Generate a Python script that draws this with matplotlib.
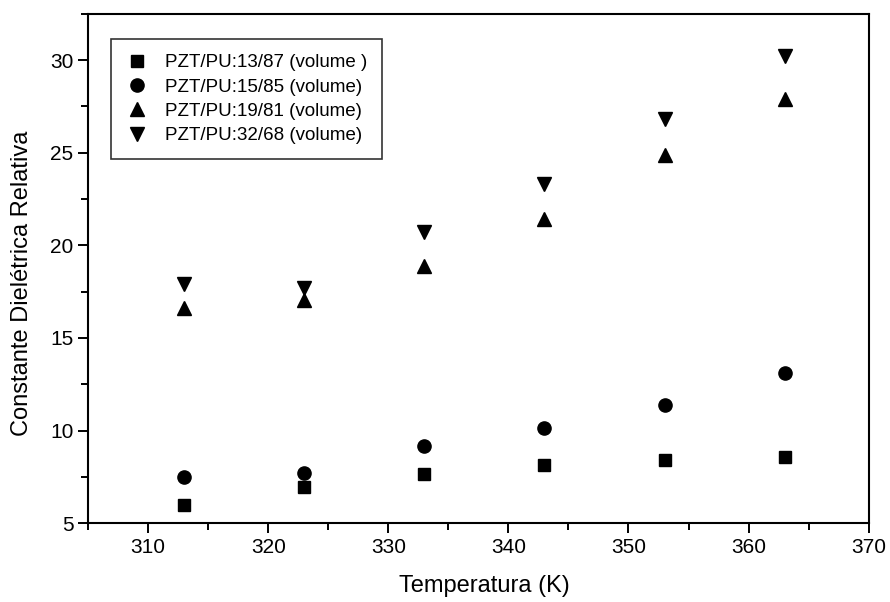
import numpy as np
import matplotlib.pyplot as plt
from matplotlib.ticker import MultipleLocator

plt.rcParams['font.family'] = ['Liberation Sans', 'DejaVu Sans']

# temperatures (K)
temp = [313, 323, 333, 343, 353, 363]

# relative dielectric constant per composition
pzt_13 = [5.97, 6.95, 7.65, 8.13, 8.4, 8.57]
pzt_15 = [7.49, 7.7, 9.16, 10.14, 11.38, 13.1]
pzt_19 = [16.6, 17.05, 18.9, 21.4, 24.9, 27.9]
pzt_32 = [17.9, 17.7, 20.7, 23.3, 26.8, 30.2]

labels = ["PZT/PU:13/87 (volume )", "PZT/PU:15/85 (volume)",
          "PZT/PU:19/81 (volume)", "PZT/PU:32/68 (volume)"]


def main():
    fig = plt.figure(figsize=(8.9, 6.02), dpi=100)
    ax = fig.add_axes([0.099, 0.131, 0.877, 0.846])

    ax.plot(temp, pzt_13, 's', color='black', ms=8.5, label=labels[0])
    ax.plot(temp, pzt_15, 'o', color='black', ms=9.5, label=labels[1])
    ax.plot(temp, pzt_19, '^', color='black', ms=10, label=labels[2])
    ax.plot(temp, pzt_32, 'v', color='black', ms=10, label=labels[3])

    ax.set_xlim(305, 370)
    ax.set_ylim(5, 32.5)
    ax.xaxis.set_major_locator(MultipleLocator(10))
    ax.xaxis.set_minor_locator(MultipleLocator(5))
    ax.yaxis.set_major_locator(MultipleLocator(5))
    ax.yaxis.set_minor_locator(MultipleLocator(2.5))
    ax.tick_params(which='major', direction='out', length=7, width=1.4, labelsize=15)
    ax.tick_params(which='minor', direction='out', length=5, width=1.4)
    for s in ax.spines.values():
        s.set_linewidth(1.5)

    ax.set_xlabel("Temperatura (K)", fontsize=17)
    ax.set_ylabel("Constante Dielétrica Relativa", fontsize=17)
    ax.xaxis.set_label_coords(0.508, -0.102)
    ax.yaxis.set_label_coords(-0.070, 0.47)

    leg = ax.legend(loc='upper left', bbox_to_anchor=(0.029, 0.95), fontsize=13.5,
                    frameon=True, fancybox=False, edgecolor='black',
                    handletextpad=0.9, borderpad=0.8, labelspacing=0.38,
                    handlelength=1.2, borderaxespad=0)
    leg.get_frame().set_linewidth(1.2)

    fig.savefig("out.png", dpi=100)


if __name__ == "__main__":
    main()
